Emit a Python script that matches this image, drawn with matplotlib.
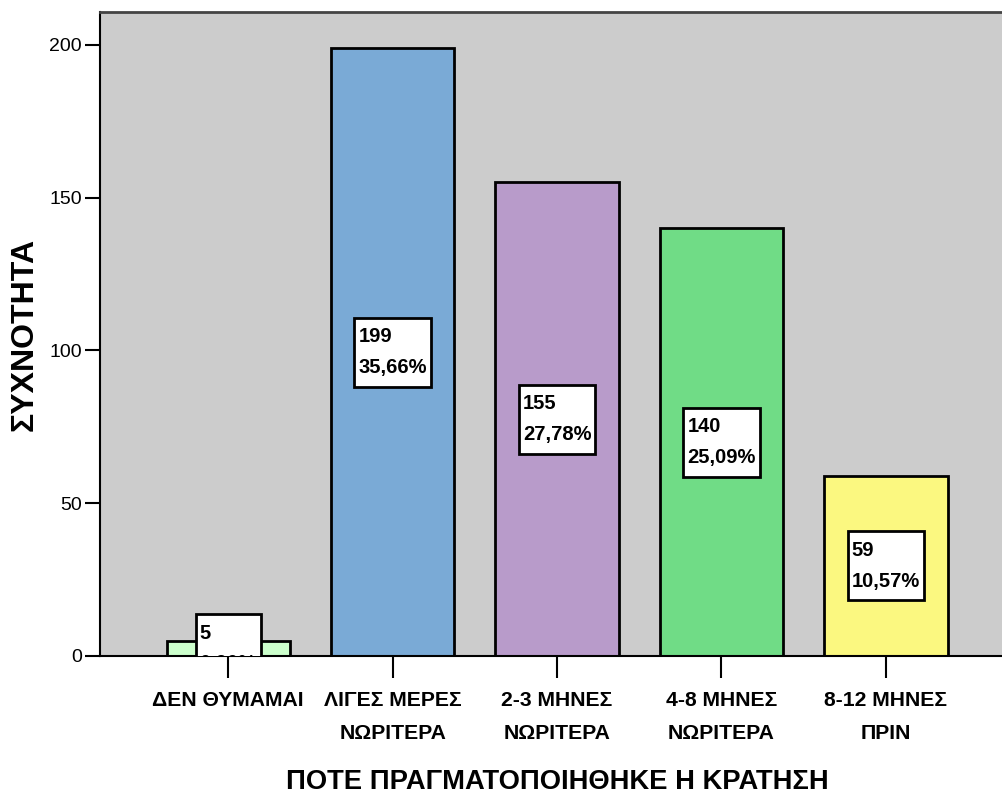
import matplotlib
matplotlib.use("Agg")
import matplotlib.pyplot as plt
from matplotlib.patches import Rectangle
from matplotlib.transforms import IdentityTransform

categories = ["ΔΕΝ ΘΥΜΑΜΑΙ", "ΛΙΓΕΣ ΜΕΡΕΣ\nΝΩΡΙΤΕΡΑ", "2-3 ΜΗΝΕΣ\nΝΩΡΙΤΕΡΑ",
              "4-8 ΜΗΝΕΣ\nΝΩΡΙΤΕΡΑ", "8-12 ΜΗΝΕΣ\nΠΡΙΝ"]
counts = [5, 199, 155, 140, 59]
percents = ["0,90%", "35,66%", "27,78%", "25,09%", "10,57%"]
colors = ["#ccffcc", "#7aaad6", "#b89bca", "#70dc86", "#fbf880"]
yticks = [0, 50, 100, 150, 200]

FONT = ["Liberation Sans", "DejaVu Sans"]

fig = plt.figure(figsize=(10.02, 7.98), dpi=100)
ax = fig.add_axes([100/1002, 142/798, 910/1002, 644/798])
ax.set_facecolor("#cccccc")

x = list(range(len(categories)))
ax.bar(x, counts, width=0.75, color=colors, edgecolor="black", linewidth=2, zorder=2)
ax.set_xlim(-0.78, 4.755)
ax.set_ylim(0, 210.8)

texts = []
for xi, c, p in zip(x, counts, percents):
    t = ax.text(xi, c / 2, f"{c}\n{p}", ha="center", va="center", multialignment="left",
                fontsize=14.5, fontweight="bold", family=FONT,
                linespacing=1.78, zorder=4, clip_on=True)
    texts.append(t)

ax.set_yticks(yticks)
ax.set_yticklabels([str(t) for t in yticks], family=FONT, fontsize=14)
ax.set_xticks(x)
ax.set_xticklabels(categories, family=FONT, fontsize=15.2,
                   fontweight="bold", linespacing=1.9)
ax.tick_params(axis="y", length=11, width=1.5, pad=2)
ax.tick_params(axis="x", length=16, width=1.5, pad=9.5)

for s in ax.spines.values():
    s.set_linewidth(1.5)
ax.spines["top"].set_color("#444444")
ax.spines["top"].set_linewidth(2)

ax.set_xlabel("ΠΟΤΕ ΠΡΑΓΜΑΤΟΠΟΙΗΘΗΚΕ Η ΚΡΑΤΗΣΗ", family=FONT,
              fontsize=19.7, fontweight="bold")
ax.xaxis.set_label_coords((557 - 100) / 910, -0.176)
ax.set_ylabel("ΣΥΧΝΟΤΗΤΑ", family=FONT, fontsize=23, fontweight="bold")
ax.yaxis.set_label_coords(-0.066, 0.5)

# white label boxes sized around each text (in display pixels)
fig.canvas.draw()
renderer = fig.canvas.get_renderer()
for t in texts:
    bb = t.get_window_extent(renderer)
    cx = (bb.x0 + bb.x1) / 2
    cy = (bb.y0 + bb.y1) / 2
    w = bb.width + 8
    h = 69
    rect = Rectangle((cx - w / 2, cy - h / 2), w, h, transform=IdentityTransform(),
                     facecolor="white", edgecolor="black", linewidth=2, zorder=3)
    ax.add_patch(rect)
    rect.set_clip_path(ax.patch)

fig.savefig("out.png", dpi=100)
